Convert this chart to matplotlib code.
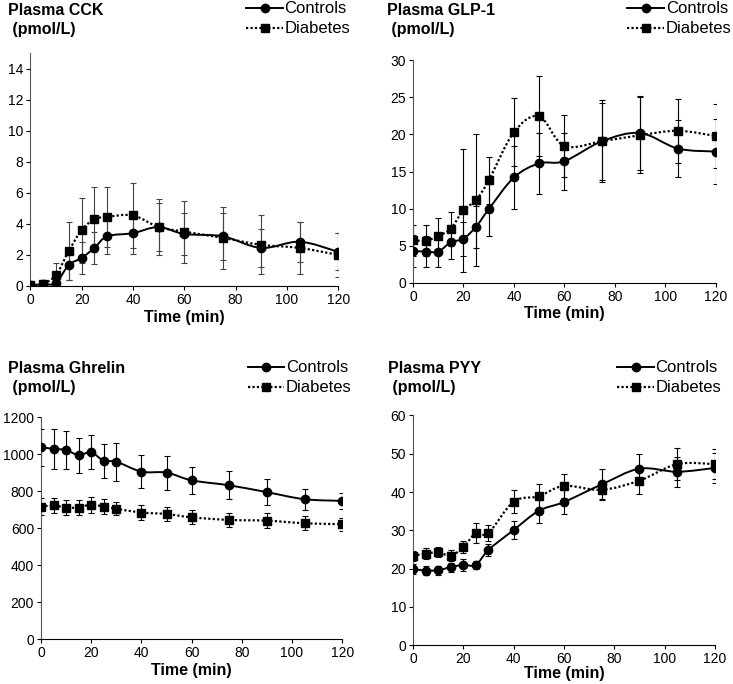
import matplotlib
matplotlib.use('Agg')
import matplotlib.pyplot as plt
from matplotlib.path import Path
from matplotlib.patches import PathPatch
from matplotlib.lines import Line2D
import numpy as np

plt.rcParams['font.family'] = ['Liberation Sans', 'DejaVu Sans']

# sampling times (min)
time = [0, 5, 10, 15, 20, 25, 30, 40, 50, 60, 75, 90, 105, 120]

# CCK (pmol/L)
cck_ctrl = [0.05, 0.1, 0.2, 1.35, 1.8, 2.45, 3.2, 3.4, 3.8, 3.35, 3.2, 2.45, 2.85, 2.2]
cck_ctrl_err = [0.1, 0.1, 0.2, 1.0, 1.05, 1.05, 1.15, 1.35, 1.55, 1.33, 1.5, 1.25, 1.3, 1.2]
cck_diab = [0.05, 0.15, 0.7, 2.25, 3.6, 4.3, 4.45, 4.55, 3.8, 3.5, 3.1, 2.65, 2.45, 2.0]
cck_diab_err = [0.1, 0.15, 0.8, 1.85, 2.1, 2.1, 1.95, 2.1, 1.8, 2.0, 2.0, 1.9, 1.65, 1.4]

# GLP-1 (pmol/L)
glp_ctrl = [4.27, 4.2, 4.2, 5.45, 5.95, 7.55, 9.9, 14.2, 16.1, 16.4, 19.1, 20.2, 18.1, 17.7]
glp_ctrl_err = [2.1, 2.1, 2.05, 2.2, 2.3, 2.85, 3.6, 4.2, 4.1, 3.85, 5.5, 5.0, 3.9, 4.4]
glp_diab = [5.75, 5.65, 6.3, 7.3, 9.8, 11.15, 13.8, 20.3, 22.45, 18.45, 19.1, 19.9, 20.5, 19.8]
glp_diab_err = [2.1, 2.1, 2.4, 2.3, 8.3, 8.85, 3.2, 4.6, 5.4, 4.15, 5.2, 5.1, 4.35, 4.35]

# Ghrelin (pmol/L)
ghr_ctrl = [1038, 1029, 1023, 995, 1011, 964, 960, 906, 901, 859, 832, 795, 757, 748]
ghr_ctrl_err = [100, 110, 103, 95, 93, 90, 103, 89, 92, 74, 76, 70, 57, 44]
ghr_diab = [717, 723, 712, 712, 728, 717, 705, 685, 677, 659, 645, 641, 627, 622]
ghr_diab_err = [45, 38, 40, 40, 43, 40, 36, 38, 37, 38, 36, 41, 38, 36]

# PYY (pmol/L)
pyy_ctrl = [19.9, 19.5, 19.6, 20.4, 21.0, 21.0, 24.9, 30.1, 35.1, 37.4, 42.0, 46.1, 45.3, 46.3]
pyy_ctrl_err = [1.2, 1.2, 1.2, 1.2, 1.5, 1.0, 1.6, 2.4, 3.1, 3.2, 4.0, 3.8, 3.9, 4.0]
pyy_diab = [23.4, 23.9, 24.3, 23.4, 25.6, 29.3, 29.3, 37.5, 38.9, 41.6, 40.6, 43.0, 47.3, 47.3]
pyy_diab_err = [1.3, 1.5, 1.3, 1.5, 1.5, 2.5, 2.1, 3.0, 3.1, 3.2, 2.3, 3.6, 4.1, 4.0]

panels = [
    # title, ctrl, ctrl err, diab, diab err, ymax, ystep, axes rect, title pos, legend pos, xlabel pad, err colour
    ('Plasma CCK', cck_ctrl, cck_ctrl_err, cck_diab, cck_diab_err, 15, 2,
     [0.0413, 0.582, 0.420, 0.340], (0.011, 0.995), (0.478, 0.998), 2, '#444444'),
    ('Plasma GLP-1', glp_ctrl, glp_ctrl_err, glp_diab, glp_diab_err, 30, 5,
     [0.5634, 0.5867, 0.413, 0.325], (0.528, 0.995), (0.998, 0.998), 2, 'black'),
    ('Plasma Ghrelin', ghr_ctrl, ghr_ctrl_err, ghr_diab, ghr_diab_err, 1200, 200,
     [0.0559, 0.0654, 0.411, 0.3246], (0.011, 0.472), (0.480, 0.473), 2, 'black'),
    ('Plasma PYY', pyy_ctrl, pyy_ctrl_err, pyy_diab, pyy_diab_err, 60, 10,
     [0.5634, 0.0566, 0.412, 0.336], (0.530, 0.472), (0.984, 0.473), -0.5, 'black'),
]


def smooth_path(x, y):
    # excel-style smoothed line: bezier segments through every data point
    x = np.asarray(x, float)
    y = np.asarray(y, float)
    pts = np.column_stack([x, y])
    verts = [pts[0]]
    codes = [Path.MOVETO]
    n = len(pts)
    for i in range(n - 1):
        p0 = pts[i - 1] if i > 0 else pts[i]
        p1 = pts[i]
        p2 = pts[i + 1]
        p3 = pts[i + 2] if i + 2 < n else pts[i + 1]
        c1 = p1 + (p2 - p0) / 6.0
        c2 = p2 - (p3 - p1) / 6.0
        verts += [c1, c2, p2]
        codes += [Path.CURVE4] * 3
    return Path(verts, codes)


fig = plt.figure(figsize=(7.33, 6.84), dpi=100)

for title, yc, ec, yd, ed, ymax, ystep, rect, tpos, lpos, xpad, ecol in panels:
    ax = fig.add_axes(rect)
    ax.errorbar(time, yc, yerr=ec, fmt='none', ecolor=ecol, elinewidth=0.8,
                capsize=2.5, capthick=0.8, zorder=2)
    ax.errorbar(time, yd, yerr=ed, fmt='none', ecolor=ecol, elinewidth=0.8,
                capsize=2.5, capthick=0.8, zorder=2)
    ax.add_patch(PathPatch(smooth_path(time, yc), facecolor='none', edgecolor='black',
                           linewidth=1.4, zorder=3))
    ax.add_patch(PathPatch(smooth_path(time, yd), facecolor='none', edgecolor='black',
                           linewidth=1.6, linestyle=(0, (1, 1)), zorder=3))
    ax.plot(time, yc, color='black', linestyle='none', marker='o', markersize=6, zorder=4)
    ax.plot(time, yd, color='black', linestyle='none', marker='s', markersize=6, zorder=4)

    ax.set_xlim(0, 120)
    ax.set_ylim(0, ymax)
    ax.set_xticks(np.arange(0, 121, 20))
    ax.set_yticks(np.arange(0, ymax + 0.001, ystep))
    ax.spines['top'].set_visible(False)
    ax.spines['right'].set_visible(False)
    for s in ['left', 'bottom']:
        ax.spines[s].set_linewidth(0.8)
    ax.spines['left'].set_color('#555555')
    ax.spines['bottom'].set_color('black')
    ax.tick_params(direction='out', length=3, width=0.8, labelsize=10, pad=2)
    ax.set_xlabel('Time (min)', fontsize=11.5, fontweight='bold', labelpad=xpad)

    fig.text(tpos[0], tpos[1], title + '\n (pmol/L)', fontsize=11.5, fontweight='bold',
             ha='left', va='top', linespacing=1.3)
    handles = [
        Line2D([], [], color='black', linestyle='-', linewidth=1.4, marker='o', markersize=6),
        Line2D([], [], color='black', linestyle=(0, (1, 1)), linewidth=1.6, marker='s', markersize=6),
    ]
    ax.legend(handles, ['Controls', 'Diabetes'], loc='upper right', bbox_to_anchor=lpos,
              bbox_transform=fig.transFigure, frameon=False, fontsize=12,
              handlelength=2.2, handletextpad=0.1, labelspacing=0.3,
              borderaxespad=0, borderpad=0)

fig.savefig('out.png', dpi=100)
